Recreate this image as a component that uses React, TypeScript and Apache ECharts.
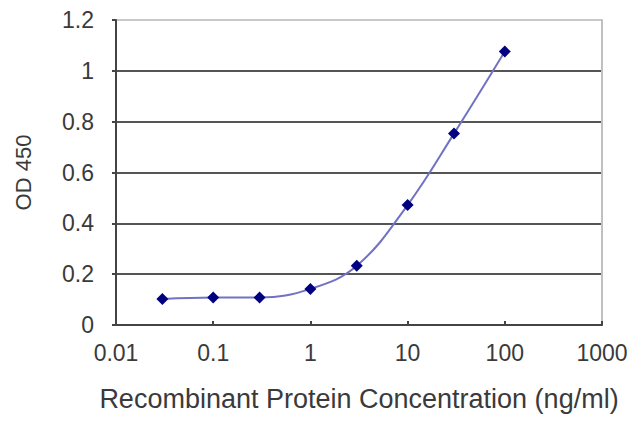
import React, { useEffect, useRef } from "react";
import * as echarts from "echarts";

const concentrations = [0.03, 0.1, 0.3, 1, 3, 10, 30, 100];
const odValues = [0.102, 0.108, 0.108, 0.142, 0.233, 0.472, 0.753, 1.076];
const xTickLabels = ["0.01", "0.1", "1", "10", "100", "1000"];
const yTickLabels = ["0", "0.2", "0.4", "0.6", "0.8", "1", "1.2"];
const xTitle = "Recombinant Protein Concentration (ng/ml)";
const yTitle = "OD 450";

export default function App() {
  const ref = useRef<HTMLDivElement>(null);
  useEffect(() => {
    document.body.style.margin = "0";
    const chart = echarts.init(ref.current!, null, { renderer: "svg" });
    const font = "Liberation Sans, Arial, sans-serif";
    const textColor = "#3a3a3a";
    chart.setOption({
      animation: false,
      backgroundColor: "#ffffff",
      grid: { left: 116, right: 38, top: 20, bottom: 102 },
      xAxis: {
        type: "log",
        logBase: 10,
        min: 0.01,
        max: 1000,
        name: xTitle,
        nameLocation: "middle",
        nameGap: 60,
        nameTextStyle: { fontFamily: font, fontSize: 27, color: textColor },
        axisLine: { lineStyle: { color: "#444", width: 2 } },
        axisTick: { inside: true, length: 4, lineStyle: { color: "#444", width: 2 } },
        minorTick: { show: false },
        splitLine: { show: false },
        axisLabel: {
          fontFamily: font,
          fontSize: 23,
          color: textColor,
          margin: 16,
          formatter: (v: number) => xTickLabels[Math.round(Math.log10(v)) + 2] ?? "",
        },
      },
      yAxis: [
        {
          type: "value",
          min: 0,
          max: 1.2,
          interval: 0.2,
          name: yTitle,
          nameLocation: "middle",
          nameGap: 82,
          nameRotate: 90,
          nameTextStyle: { fontFamily: font, fontSize: 22, color: textColor },
          axisLine: { show: true, lineStyle: { color: "#444", width: 2 } },
          axisTick: { show: true, length: 4, lineStyle: { color: "#444", width: 2 } },
          splitLine: {
            show: true,
            lineStyle: {
              color: ["#555", "#555", "#555", "#555", "#555", "#555", "#c8c8c8"],
              width: 2,
            },
          },
          axisLabel: {
            fontFamily: font,
            fontSize: 23,
            color: textColor,
            margin: 22,
            formatter: (v: number) => yTickLabels[Math.round(v / 0.2)] ?? "",
          },
        },
        {
          type: "value",
          min: 0,
          max: 1.2,
          interval: 0.2,
          position: "right",
          axisLine: { show: true, lineStyle: { color: "#c0c0c0", width: 2 } },
          axisTick: { show: false },
          axisLabel: { show: false },
          splitLine: { show: false },
        },
      ],
      series: [
        {
          type: "line",
          yAxisIndex: 0,
          data: concentrations.map((c, i) => [c, odValues[i]]),
          smooth: 0.4,
          symbol: "diamond",
          symbolSize: 12,
          itemStyle: { color: "#000080" },
          lineStyle: { color: "#7272c4", width: 2 },
        },
      ],
    });
    return () => chart.dispose();
  }, []);
  return <div ref={ref} style={{ width: 640, height: 427 }} />;
}
